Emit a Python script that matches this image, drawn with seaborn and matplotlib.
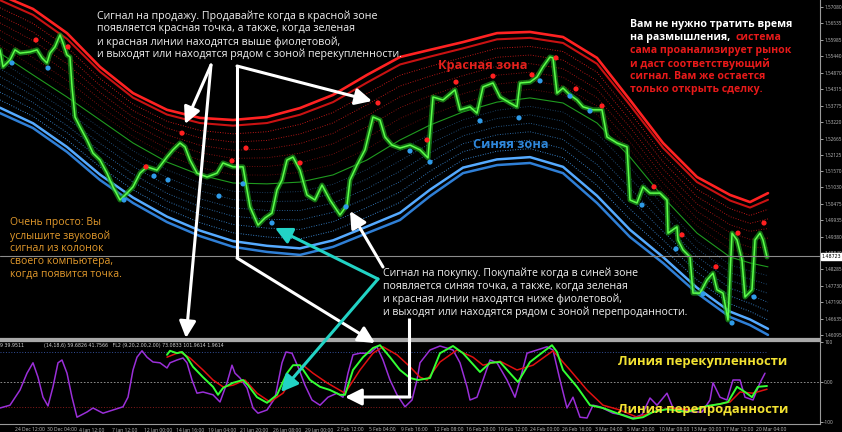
import numpy as np
import matplotlib.pyplot as plt
import seaborn as sns

sns.set_theme(style='dark', rc={
    'axes.facecolor': 'black', 'figure.facecolor': 'black',
    'axes.edgecolor': '#8c8c8c', 'axes.grid': False,
    'xtick.color': '#bdbdbd', 'ytick.color': '#bdbdbd',
    'text.color': 'white'})
plt.rcParams['font.family'] = ['Open Sans', 'DejaVu Sans']

## данные графика (индекс бара по горизонтали)
band_x = [0, 33, 67, 100, 133, 167, 200, 233, 267, 300, 333, 367, 400, 430,
          463, 497, 530, 563, 597, 630, 663, 697, 730, 750, 768]
red_band = [1.5748, 1.5701, 1.5620, 1.5507, 1.5419, 1.5363, 1.5336, 1.5329, 1.5339,
            1.5369, 1.5413, 1.5480, 1.5540, 1.5564, 1.5590, 1.5620, 1.5624, 1.5607,
            1.5537, 1.5396, 1.5252, 1.5138, 1.5078, 1.5054, 1.5084]
blue_band = [1.5352, 1.5302, 1.5222, 1.5128, 1.5051, 1.4987, 1.4940, 1.4904, 1.4887,
             1.4877, 1.4904, 1.4950, 1.4994, 1.5074, 1.5151, 1.5178, 1.5185, 1.5151,
             1.5051, 1.4937, 1.4850, 1.4749, 1.4669, 1.4642, 1.4609]
mid_line = [1.5553, 1.5480, 1.5406, 1.5329, 1.5252, 1.5188, 1.5145, 1.5118, 1.5115,
            1.5121, 1.5145, 1.5195, 1.5262, 1.5312, 1.5356, 1.5389, 1.5403, 1.5386,
            1.5319, 1.5205, 1.5071, 1.4950, 1.4870, 1.4850, 1.4837]

price_x = [0, 3, 10, 15, 20, 30, 37, 42, 47, 50, 55, 60, 63, 67, 70, 72, 75, 80, 87, 93,
           100, 107, 113, 120, 127, 133, 140, 147, 157, 167, 173, 180, 185, 190, 197,
           207, 217, 223, 233, 243, 250, 258, 265, 272, 277, 282, 287, 293, 300, 307,
           315, 322, 330, 340, 347, 350, 357, 365, 373, 380, 385, 392, 400, 410, 420,
           428, 433, 443, 455, 460, 470, 477, 483, 493, 500, 510, 517, 520, 530, 537,
           543, 550, 553, 557, 563, 570, 577, 583, 593, 602, 607, 617, 627, 630, 637,
           643, 650, 660, 667, 668, 677, 678, 683, 690, 693, 700, 707, 713, 717, 723,
           728, 732, 737, 742, 745, 752, 755, 760, 763, 767]
price_close = [1.5564, 1.5507, 1.5530, 1.5564, 1.5553, 1.5557, 1.5564, 1.5537, 1.5520,
               1.5553, 1.5574, 1.5614, 1.5587, 1.5547, 1.5540, 1.5440, 1.5339, 1.5306,
               1.5262, 1.5218, 1.5195, 1.5151, 1.5105, 1.5061, 1.5084, 1.5105, 1.5151,
               1.5172, 1.5161, 1.5205, 1.5229, 1.5252, 1.5239, 1.5195, 1.5151, 1.5138,
               1.5151, 1.5185, 1.5172, 1.5172, 1.5038, 1.4977, 1.5001, 1.5017, 1.5095,
               1.5128, 1.5195, 1.5205, 1.5161, 1.5078, 1.5061, 1.5111, 1.5061, 1.5011,
               1.5044, 1.5128, 1.5178, 1.5229, 1.5339, 1.5329, 1.5272, 1.5245, 1.5235,
               1.5245, 1.5229, 1.5202, 1.5406, 1.5396, 1.5430, 1.5363, 1.5373, 1.5352,
               1.5440, 1.5453, 1.5406, 1.5386, 1.5373, 1.5453, 1.5456, 1.5473, 1.5507,
               1.5540, 1.5537, 1.5419, 1.5436, 1.5413, 1.5396, 1.5373, 1.5363, 1.5363,
               1.5272, 1.5252, 1.5239, 1.5061, 1.5051, 1.5105, 1.5084, 1.5084, 1.5061,
               1.4950, 1.4971, 1.4927, 1.4894, 1.4870, 1.4749, 1.4749, 1.4793, 1.4816,
               1.4760, 1.4749, 1.4659, 1.4950, 1.4927, 1.4860, 1.4736, 1.4760, 1.4927,
               1.4950, 1.4927, 1.4870]
last_price = 1.48723

sell_x = [36, 68, 146, 182, 232, 246, 300, 378, 427, 456, 493, 532, 556, 576, 602,
          654, 682, 716, 738, 764]
sell_y = [1.5597, 1.5574, 1.5172, 1.5285, 1.5192, 1.5235, 1.5185, 1.5386, 1.5262,
          1.5456, 1.5476, 1.5480, 1.5537, 1.5433, 1.5376, 1.5105, 1.4944, 1.4837,
          1.4950, 1.4984]
buy_x = [12, 48, 124, 154, 168, 219, 243, 272, 346, 410, 430, 480, 519, 540, 570,
         590, 642, 676, 703, 732, 754]
buy_y = [1.5520, 1.5503, 1.5061, 1.5141, 1.5128, 1.5074, 1.5115, 1.4984, 1.5038,
         1.5225, 1.5188, 1.5326, 1.5336, 1.5460, 1.5409, 1.5359, 1.5044, 1.4897,
         1.4746, 1.4649, 1.4736]

purple_x = [0, 10, 20, 27, 33, 38, 43, 48, 53, 58, 62, 67, 72, 77, 87, 93, 103, 113,
            123, 128, 133, 137, 142, 147, 153, 160, 167, 170, 177, 183, 187, 192, 197,
            203, 213, 220, 227, 232, 235, 240, 247, 253, 258, 267, 275, 282, 286, 292,
            298, 305, 312, 320, 328, 337, 343, 348, 353, 360, 370, 377, 383, 390, 397,
            405, 412, 417, 420, 430, 440, 453, 460, 467, 470, 477, 483, 490, 497, 507,
            515, 520, 527, 537, 547, 553, 560, 567, 573, 580, 587, 593, 600, 613, 623,
            633, 642, 650, 657, 667, 673, 683, 693, 702, 710, 713, 720, 727, 733, 740,
            745, 753, 760, 765]
purple_osc = [-65, -58, -20, 22, 48, 12, -38, -60, -12, 48, 55, 22, -38, -88, -75,
              -65, -78, -70, -62, -38, 30, 62, 78, 62, 50, 48, 35, 48, 55, 60, 48, 5,
              -28, -25, -32, -50, -2, 42, 22, 10, -15, -65, -78, -70, -40, 48, 75, 72,
              38, -8, -45, -58, -38, -28, -38, 22, 68, 72, 72, 88, 55, 5, -32, -62, -45,
              5, 48, 80, 90, 80, 48, -12, -45, -38, 5, 55, 48, 5, -38, 5, 72, 80, 88,
              80, 5, -65, -38, -88, -90, -58, -62, -78, -82, -90, -82, -40, -58, -28,
              -65, -70, -75, -75, -45, -2, -38, -45, 5, 5, -38, -45, -2, 22]
green_x = [167, 170, 177, 182, 187, 193, 203, 213, 218, 223, 233, 243, 248, 257, 267,
           277, 287, 293, 300, 310, 320, 330, 340, 345, 353, 363, 373, 380, 390, 400,
           410, 418, 430, 440, 453, 463, 480, 490, 500, 510, 518, 530, 543, 552, 557,
           563, 577, 590, 603, 617, 633, 643, 653, 667, 687, 707, 720, 728, 737, 745,
           752, 758, 767]
green_osc = [68, 78, 72, 75, 62, 38, 12, -12, -32, -15, -2, 5, -8, -38, -52, -32, 22,
             42, 42, 5, -12, -20, -32, -32, 30, 62, 85, 92, 62, 30, 10, 5, 10, 72, 90,
             72, 25, 48, 50, 22, 0, 50, 75, 92, 75, 30, -12, -58, -65, -78, -92, -88,
             -75, -68, -75, -60, -55, -50, -12, -25, -38, -12, -10]
red_x = [167, 180, 190, 203, 213, 223, 233, 245, 257, 270, 283, 293, 303, 313, 327,
         345, 360, 373, 383, 397, 410, 420, 427, 440, 457, 473, 483, 500, 517, 533,
         553, 570, 587, 603, 620, 637, 653, 670, 693, 713, 730, 740, 753, 767]
red_osc = [62, 75, 60, 30, 5, -12, -8, 5, -28, -50, -28, 12, 42, 22, -2, -28, 30, 72,
           88, 68, 38, 12, 5, 50, 80, 62, 42, 52, 30, 42, 78, 30, -20, -58, -70, -88,
           -75, -65, -70, -58, -50, -25, -28, -18]
overbought_level = 75
oversold_level = -62

price_ticks = [1.57080, 1.56535, 1.55985, 1.55440, 1.54870, 1.54315, 1.53775, 1.53220,
               1.52665, 1.52125, 1.51570, 1.51030, 1.50475, 1.49935, 1.49380, 1.48840,
               1.48285, 1.47730, 1.47190, 1.46635, 1.46095]
date_labels = ['24 Dec 12:00', '30 Dec 04:00', '4 Jan 12:00', '7 Jan 12:00',
               '12 Jan 00:00', '14 Jan 16:00', '19 Jan 04:00', '21 Jan 20:00',
               '26 Jan 08:00', '29 Jan 00:00', '2 Feb 12:00', '5 Feb 04:00',
               '9 Feb 16:00', '12 Feb 08:00', '16 Feb 20:00', '19 Feb 12:00',
               '24 Feb 00:00', '26 Feb 16:00', '3 Mar 04:00', '5 Mar 20:00',
               '10 Mar 08:00', '13 Mar 00:00', '17 Mar 12:00', '20 Mar 04:00']

## фигура: основной график, осциллятор, слой для подписей
fig = plt.figure(figsize=(8.42, 4.32), dpi=100)
ax = fig.add_axes([0, 93 / 432, 820 / 842, 339 / 432])
ax2 = fig.add_axes([0, 8 / 432, 820 / 842, 83 / 432])

red = np.array(red_band)
blue = np.array(blue_band)
mid = np.array(mid_line)

# красная и синяя зоны
dotted = [0.22, 0.35, 0.48, 0.61, 0.74, 0.87]
for i, f in enumerate(dotted):
    a = 1.0 - 0.11 * i
    sns.lineplot(x=band_x, y=red + (mid - red) * f, ax=ax, color='#e01c1c',
                 lw=0.65, linestyle=(0, (1, 1.8)), alpha=a)
    sns.lineplot(x=band_x, y=blue + (mid - blue) * f, ax=ax, color='#3f95e8',
                 lw=0.65, linestyle=(0, (1, 1.8)), alpha=a)
sns.lineplot(x=band_x, y=red + (mid - red) * 0.09, ax=ax, color='#c81212', lw=1.5)
sns.lineplot(x=band_x, y=red, ax=ax, color='#ff2222', lw=1.9)
sns.lineplot(x=band_x, y=blue + (mid - blue) * 0.09, ax=ax, color='#55aaff', lw=1.8)
sns.lineplot(x=band_x, y=blue, ax=ax, color='#2f7fd6', lw=1.8)
sns.lineplot(x=band_x, y=mid, ax=ax, color='#1f9a1f', lw=0.8)

# цена
sns.lineplot(x=price_x, y=price_close, ax=ax, color='#1c9e1c', lw=3.6, alpha=0.7)
sns.lineplot(x=price_x, y=price_close, ax=ax, color='#5cff4a', lw=1.1)

# сигнальные точки
sns.scatterplot(x=sell_x, y=sell_y, ax=ax, color='#ff2020', s=14, edgecolor='none', zorder=5)
sns.scatterplot(x=buy_x, y=buy_y, ax=ax, color='#2f9be8', s=14, edgecolor='none', zorder=5)

ax.axhline(last_price, color='#8c8c8c', lw=0.8)
ax.set_xlim(0, 820)
ax.set_ylim(1.45953, 1.5731)
ax.set_xticks([])
ax.yaxis.tick_right()
ax.set_yticks(price_ticks)
ax.set_yticklabels([f'{v:.5f}' for v in price_ticks])
ax.tick_params(axis='y', labelsize=3.4, length=2, width=0.6, pad=1,
               colors='#bdbdbd', right=True)
for s in ['top', 'left']:
    ax.spines[s].set_visible(False)
ax.spines['right'].set_color('#9a9a9a')
ax.spines['right'].set_linewidth(0.8)
ax.spines['bottom'].set_color('#a8a8a8')
ax.spines['bottom'].set_linewidth(1.6)
ax.annotate(f'{last_price:.5f}', xy=(1, last_price), xycoords=('axes fraction', 'data'),
            xytext=(1, 0), textcoords='offset points', fontsize=3.4, color='black',
            va='center', ha='left', family='DejaVu Sans', zorder=10,
            bbox=dict(boxstyle='square,pad=0.15', fc='white', ec='white'))

# осциллятор
ax2.hlines([overbought_level], 0, price_x[-1], color='#34509a', lw=0.7, linestyle=(0, (1, 1.8)))
ax2.hlines([0], 0, 820, color='#a0a0a0', lw=0.6, linestyle=(0, (2, 2)))
ax2.hlines([oversold_level], 0, price_x[-1], color='#8a1c1c', lw=0.7, linestyle=(0, (1, 1.8)))
sns.lineplot(x=purple_x, y=purple_osc, ax=ax2, color='#9a2fd8', lw=1.1)
sns.lineplot(x=red_x, y=red_osc, ax=ax2, color='#e01010', lw=1.1)
sns.lineplot(x=green_x, y=green_osc, ax=ax2, color='#33ff33', lw=1.4)
ax2.set_xlim(0, 820)
ax2.set_ylim(-105, 102.5)
ax2.set_xticks([15 + 32.2 * i for i in range(len(date_labels))])
ax2.set_xticklabels(date_labels, ha='left')
ax2.tick_params(axis='x', labelsize=3.6, length=2, width=0.6, pad=0.5, colors='#bdbdbd')
ax2.yaxis.tick_right()
ax2.set_yticks([100, 0, -100])
ax2.set_yticklabels(['100', '0.00', '-100'])
ax2.tick_params(axis='y', labelsize=3.4, length=2, width=0.6, pad=1, colors='#bdbdbd')
ax2.set_xlabel('')
ax2.set_ylabel('')
ax.set_xlabel('')
ax.set_ylabel('')
ax2.spines['left'].set_visible(False)
ax2.spines['top'].set_color('#a8a8a8')
ax2.spines['top'].set_linewidth(1.6)
for s in ['right', 'bottom']:
    ax2.spines[s].set_color('#9a9a9a')
    ax2.spines[s].set_linewidth(0.8)
ax2.text(0, 97, '9 39.9511', fontsize=3.4, color='#d0d0d0', va='top', family='DejaVu Sans')
ax2.text(44, 97, '(14,18,6) 59.6826 41.7566   FL2 (9,20,2.00,2.00) 73.0833 101.9614 1.9614',
         fontsize=3.4, color='#d0d0d0', va='top', family='DejaVu Sans')

## слой подписей в пикселях
ov = fig.add_axes([0, 0, 1, 1])
ov.set_xlim(0, 842)
ov.set_ylim(432, 0)
ov.axis('off')
ov.patch.set_alpha(0)


def lines(x, y0, dy, rows, **kw):
    for i, r in enumerate(rows):
        ov.text(x, y0 + dy * i, r, va='center', ha='left', **kw)


lines(97, 16, 12.9, ['Сигнал на продажу. Продавайте когда в красной зоне',
                     'появляется красная точка, а также, когда зеленая',
                     'и красная линии находятся выше фиолетовой,',
                     'и выходят или находятся рядом с зоной перекупленности.'],
      fontsize=7.7, color='#f0f0f0')
lines(383, 273, 13, ['Сигнал на покупку. Покупайте когда в синей зоне',
                     'появляется синяя точка, а также, когда зеленая',
                     'и красная линии находятся ниже фиолетовой,',
                     'и выходят или находятся рядом с зоной перепроданности.'],
      fontsize=7.6, color='#f0f0f0')
lines(10, 223, 12.8, ['Очень просто: Вы', 'услышите звуковой', 'сигнал из колонок',
                      'своего компьютера,', 'когда появится точка.'],
      fontsize=7.5, color='#e39a2c')
lines(630, 25, 12.9, ['Вам не нужно тратить время', 'на размышления,'],
      fontsize=7.6, color='white', fontweight='bold')
lines(735, 38, 12.9, ['система'], fontsize=7.6, color='#e81a1a', fontweight='bold')
lines(630, 51, 12.9, ['сама проанализирует рынок', 'и даст соответствующий',
                      'сигнал. Вам же остается', 'только открыть сделку.'],
      fontsize=7.6, color='#e81a1a', fontweight='bold')
ov.text(438, 65, 'Красная зона', fontsize=9.2, fontweight='bold', color='#e3201c', va='center')
ov.text(473, 144, 'Синяя зона', fontsize=9.2, fontweight='bold', color='#2f88dc', va='center')
ov.text(618, 362, 'Линия перекупленности', fontsize=9.4, fontweight='bold',
        color='#f2e232', va='center')
ov.text(618, 410, 'Линия перепроданности', fontsize=9.4, fontweight='bold',
        color='#f2e232', va='center')


def arrow(p0, p1, color='white'):
    ov.annotate('', xy=p1, xytext=p0,
                arrowprops=dict(arrowstyle='-|>,head_length=1.0,head_width=0.5',
                                color=color, lw=2.2, shrinkA=0, shrinkB=0,
                                mutation_scale=10))


arrow((211, 65), (185, 124))
arrow((211, 65), (186, 338))
ov.plot([237, 237], [66, 258], color='white', lw=2.2, solid_capstyle='butt')
arrow((237, 66), (372, 101))
arrow((237, 258), (375, 343))
ov.plot([409, 409], [318, 397], color='white', lw=2.2, solid_capstyle='butt')
arrow((410, 397), (345, 397))
arrow((383, 267), (350, 211))
arrow((378, 279), (275, 228), color='#22d3c5')
arrow((378, 279), (281, 392), color='#22d3c5')

fig.savefig('out.png', dpi=100, facecolor='black')
